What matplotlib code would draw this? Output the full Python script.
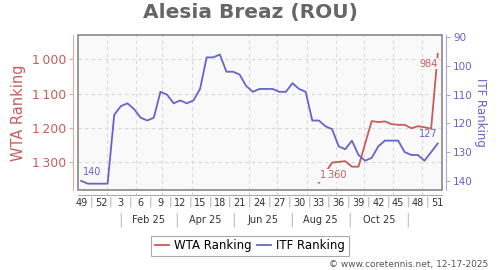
import datetime as dt
import numpy as np
import matplotlib
matplotlib.use("Agg")
import matplotlib.pyplot as plt
import matplotlib.transforms as mtransforms
from matplotlib.patches import Rectangle
from matplotlib.lines import Line2D

titulo = "Alesia Breaz (ROU)"
anos = [2024] * 4 + [2025] * 51
semanas = [49, 50, 51, 52] + list(range(1, 52))
itf = [140, 141, 141, 141, 141, 117, 114, 113, 115, 118, 119, 118, 109, 110, 113,
       112, 113, 112, 108, 97, 97, 96, 102, 102, 103, 107, 109, 108, 108, 108,
       109, 109, 106, 108, 109, 119, 119, 121, 122, 128, 129, 126, 131, 133, 132,
       128, 126, 126, 126, 130, 131, 131, 133, 130, 127]
wta = [np.nan] * 36 + [1360, 1330, 1301, 1299, 1297, 1313, 1313, 1246, 1180, 1183,
                       1181, 1189, 1191, 1191, 1201, 1195, 1198, 1202, 984]
wta_ticks = [1000, 1100, 1200, 1300]
itf_ticks = [90, 100, 110, 120, 130, 140]
meses = ["Feb 25", "Apr 25", "Jun 25", "Aug 25", "Oct 25"]
separadores = ["2025-01-16", "2025-03-16", "2025-05-16", "2025-07-16", "2025-09-16", "2025-11-16"]

vermelho = "#c85c5c"
azul = "#6464cc"
origem = dt.date(2025, 1, 1)


def dias(d):
    return (d - origem).days


# posicao de cada semana = quinta-feira da semana ISO
x = [dias(dt.date.fromisocalendar(a, s, 4)) for a, s in zip(anos, semanas)]
inicio_mes = [dias(dt.date(2025, m, 1)) for m in range(1, 13)]
sep_x = [dias(dt.date.fromisoformat(s)) for s in separadores]

fig = plt.figure(figsize=(5, 2.7), dpi=100)
ax = fig.add_axes([0.156, 0.2963, 0.727, 0.5741])
ax.set_facecolor("#f9f9f9")
ax2 = ax.twinx()

ax.plot(x, wta, color=vermelho, lw=1.3)
ax2.plot(x, itf, color=azul, lw=1.3)

ax.set_xlim(-30.4, 355)
ax.set_ylim(1381, 929)
ax2.set_ylim(143.2, 89.2)

# grelha
ax.set_xticks(inicio_mes, minor=True)
ax.set_yticks(wta_ticks)
ax.grid(which="minor", axis="x", color="#d8d8d8", ls=(0, (3, 3)), lw=0.8)
ax.grid(which="major", axis="y", color="#d8d8d8", ls=(0, (3, 3)), lw=0.8)
ax.set_axisbelow(True)

# eixo x: semanas
idx = list(range(0, len(x), 3))
ax.set_xticks([x[i] for i in idx])
ax.set_xticklabels([str(semanas[i]) for i in idx])
ax.tick_params(axis="x", which="major", length=0, pad=2.5, labelsize=7, labelcolor="#333333")
ax.tick_params(axis="x", which="minor", length=2, direction="in", color="#cccccc")
trans = mtransforms.blended_transform_factory(ax.transData, ax.transAxes)
for a, b in zip(idx[:-1], idx[1:]):
    ax.text((x[a] + x[b]) / 2, -0.077, "|", transform=trans, ha="center", va="center",
            fontsize=8, color="#aaaaaa")
for s in sep_x:
    ax.text(s, -0.195, "|", transform=trans, ha="center", va="center", fontsize=10, color="#c0c0c0")
for i, m in enumerate(meses):
    ax.text((sep_x[i] + sep_x[i + 1]) / 2, -0.195, m, transform=trans, ha="center", va="center",
            fontsize=7, color="#333333")

# eixos y
ax.set_yticklabels([f"{v:,}".replace(",", "\u2009") for v in wta_ticks])
ax.tick_params(axis="y", length=3, color="#e0a8a8", pad=2, labelsize=9, labelcolor=vermelho)
ax.set_ylabel("WTA Ranking", color=vermelho, fontsize=10.5, labelpad=4)
ax2.set_yticks(itf_ticks)
ax2.set_yticklabels([str(v) for v in itf_ticks])
ax2.tick_params(axis="y", length=3, color="#a8a8e0", pad=2, labelsize=7.5, labelcolor=azul)
ax2.set_ylabel("ITF Ranking", color=azul, fontsize=8.5, rotation=270, labelpad=10)

ax.spines["top"].set_visible(False)
ax.spines["right"].set_visible(False)
ax.spines["left"].set_position(("outward", 3.6))
ax.spines["left"].set_color("#e0a8a8")
ax.spines["bottom"].set_position(("outward", 3.3))
ax.spines["bottom"].set_color("#aaaaaa")
for lado in ["top", "left", "bottom"]:
    ax2.spines[lado].set_visible(False)
ax2.spines["right"].set_position(("outward", 3.3))
ax2.spines["right"].set_color("#a8a8e0")
ax.add_patch(Rectangle((0, 0), 1, 1, transform=ax.transAxes, fill=False, ec="#888888",
                       lw=1.2, clip_on=False, zorder=10))

# etiquetas dos pontos
ax2.annotate(str(itf[0]), (x[0], itf[0]), xytext=(1, 6), textcoords="offset points",
             ha="left", va="center", fontsize=7, color=azul)
ax2.annotate(str(itf[-1]), (x[-1], itf[-1]), xytext=(0, 6.5), textcoords="offset points",
             ha="right", va="center", fontsize=7, color=azul)
ax.annotate(f"{wta[-1]}", (x[-1], wta[-1]), xytext=(0, -7), textcoords="offset points",
            ha="right", va="center", fontsize=7, color=vermelho,
            bbox=dict(fc="#f9f9f9", ec="none", pad=0.5))
ax.annotate(f"{wta[36]:,}".replace(",", "\u2009"), (x[36], wta[36]), xytext=(0.7, 5.4),
            textcoords="offset points", ha="left", va="center", fontsize=7, color=vermelho,
            bbox=dict(fc="#f9f9f9", ec="none", pad=1.0))

fig.text(0.5, 0.952, titulo, ha="center", va="center", fontsize=14.5, fontweight="bold", color="#666666")

handles = [Line2D([], [], color=vermelho, lw=1.3), Line2D([], [], color=azul, lw=1.3)]
leg = fig.legend(handles, ["WTA Ranking", "ITF Ranking"], loc="center", bbox_to_anchor=(0.5, 0.089),
                 ncol=2, fontsize=8.5, fancybox=False, edgecolor="#aaaaaa", handlelength=1.2,
                 handletextpad=0.4, columnspacing=0.5, borderpad=0.3, framealpha=1)
leg.get_frame().set_linewidth(0.8)

fig.text(0.976, 0.022, "\u00a9 www.coretennis.net, 12-17-2025", ha="right", va="center",
         fontsize=6.5, color="#555555")

fig.savefig("out.png", dpi=100)
